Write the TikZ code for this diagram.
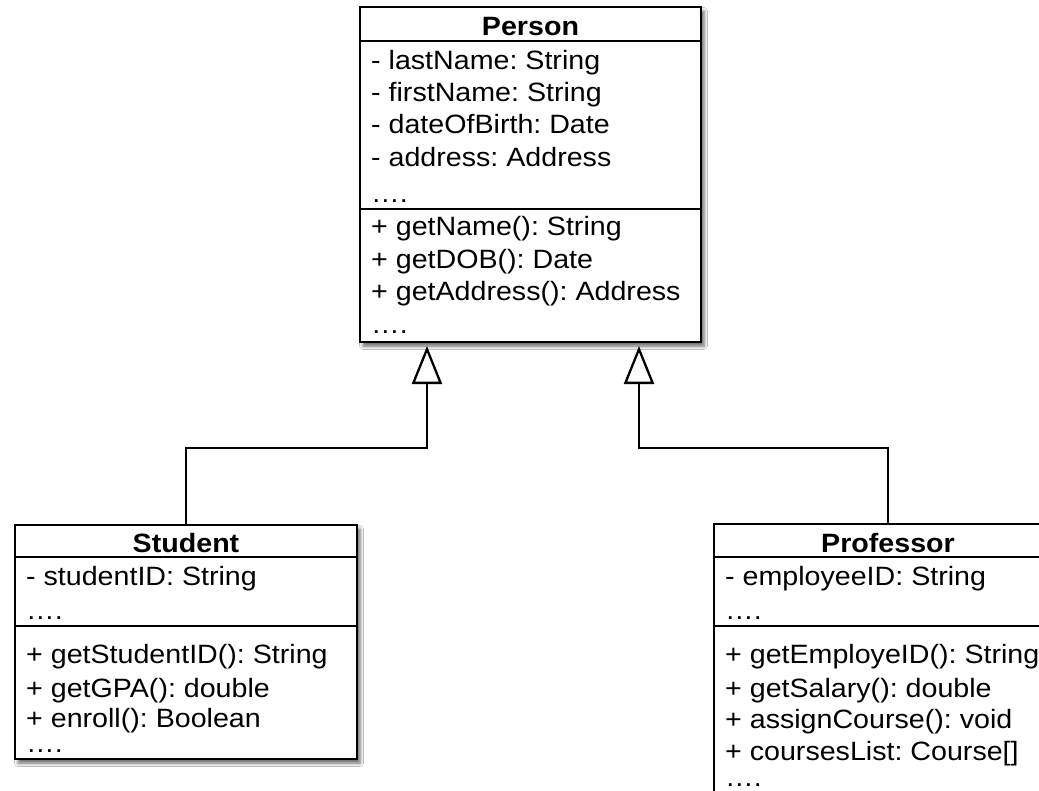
\documentclass[tikz,border=0pt]{standalone}
\usepackage{fontspec}
\setmainfont{Liberation Sans}[FakeStretch=1.08]
\usetikzlibrary{arrows.meta,calc,shadows.blur}
\frenchspacing

\begin{document}
\begin{tikzpicture}[x=1pt,y=-1pt,
  classbox/.style={draw=black, line width=2.6pt, fill=white, rectangle,
    inner sep=0pt, outer sep=0pt, anchor=north west,
    blur shadow={shadow xshift=3pt, shadow yshift=-4pt,
      shadow blur radius=3.5pt, shadow opacity=60}},
  divider/.style={line width=2.3pt},
  member/.style={anchor=base west, inner sep=0pt,
    font=\fontsize{26.5}{30}\selectfont},
  classname/.style={anchor=base, inner sep=0pt,
    font=\fontsize{26.5}{30}\selectfont\bfseries},
  generalization/.style={line width=2.3pt, line join=miter,
    -{Triangle[open, length=38pt, width=30pt]}}
]
\useasboundingbox (0,0) rectangle (1039,790);
\fill[white] (0,0) rectangle (1039,790);
\clip (0,0) rectangle (1039,790);

% ---------- Person ----------
\node[classbox, minimum width=341pt, minimum height=335pt] (person) at (360,7) {};
\draw[divider] ($(person.north west)+(0,34)$) -- ($(person.north east)+(0,34)$);
\draw[divider] ($(person.north west)+(0,202)$) -- ($(person.north east)+(0,202)$);
\node[classname] (person-name) at ($(person.north)+(0,28)$) {Person};
\node[member] (person-a1) at ($(person.north west)+(11,62)$) {- lastName: String};
\node[member] (person-a2) at ($(person.north west)+(11,94)$) {- firstName: String};
\node[member] (person-a3) at ($(person.north west)+(11,126)$) {- dateOfBirth: Date};
\node[member] (person-a4) at ($(person.north west)+(11,159)$) {- address: Address};
\node[member] (person-a5) at ($(person.north west)+(11,195)$) {….};
\node[member] (person-m1) at ($(person.north west)+(11,228)$) {+ getName(): String};
\node[member] (person-m2) at ($(person.north west)+(11,261)$) {+ getDOB(): Date};
\node[member] (person-m3) at ($(person.north west)+(11,293)$) {+ getAddress(): Address};
\node[member] (person-m4) at ($(person.north west)+(11,326)$) {….};

% ---------- Student ----------
\node[classbox, minimum width=342pt, minimum height=234pt] (student) at (15,525) {};
\draw[divider] ($(student.north west)+(0,32)$) -- ($(student.north east)+(0,32)$);
\draw[divider] ($(student.north west)+(0,101)$) -- ($(student.north east)+(0,101)$);
\node[classname] (student-name) at ($(student.north)+(0,27)$) {Student};
\node[member] (student-a1) at ($(student.north west)+(11,60)$) {- studentID: String};
\node[member] (student-a2) at ($(student.north west)+(11,94)$) {….};
\node[member] (student-m1) at ($(student.north west)+(11,138)$) {+ getStudentID(): String};
\node[member] (student-m2) at ($(student.north west)+(11,172)$) {+ getGPA(): double};
\node[member] (student-m3) at ($(student.north west)+(11,202)$) {+ enroll(): Boolean};
\node[member] (student-m4) at ($(student.north west)+(11,227)$) {….};

% ---------- Professor ----------
\node[classbox, minimum width=348pt, minimum height=300pt] (professor) at (714,524) {};
\draw[divider] ($(professor.north west)+(0,33)$) -- ($(professor.north east)+(0,33)$);
\draw[divider] ($(professor.north west)+(0,102)$) -- ($(professor.north east)+(0,102)$);
\node[classname] (professor-name) at ($(professor.north)+(0,28)$) {Professor};
\node[member] (professor-a1) at ($(professor.north west)+(11,61)$) {- employeeID: String};
\node[member] (professor-a2) at ($(professor.north west)+(11,95)$) {….};
\node[member] (professor-m1) at ($(professor.north west)+(11,139)$) {+ getEmployeID(): String};
\node[member] (professor-m2) at ($(professor.north west)+(11,173)$) {+ getSalary(): double};
\node[member] (professor-m3) at ($(professor.north west)+(11,204)$) {+ assignCourse(): void};
\node[member] (professor-m4) at ($(professor.north west)+(11,236)$) {+ coursesList: Course[]};
\node[member] (professor-m5) at ($(professor.north west)+(11,262)$) {….};

% ---------- Generalization connectors ----------
\coordinate (student-tip) at ($(person.south west)+(67,4)$);
\coordinate (student-bend) at ($(person.south west)+(67,106)$);
\coordinate (professor-tip) at ($(person.south east)+(-62,4)$);
\coordinate (professor-bend) at ($(person.south east)+(-62,106)$);
\draw[generalization] (student.north) |- (student-bend) -- (student-tip);
\draw[generalization] (professor.north) |- (professor-bend) -- (professor-tip);
\end{tikzpicture}
\end{document}
